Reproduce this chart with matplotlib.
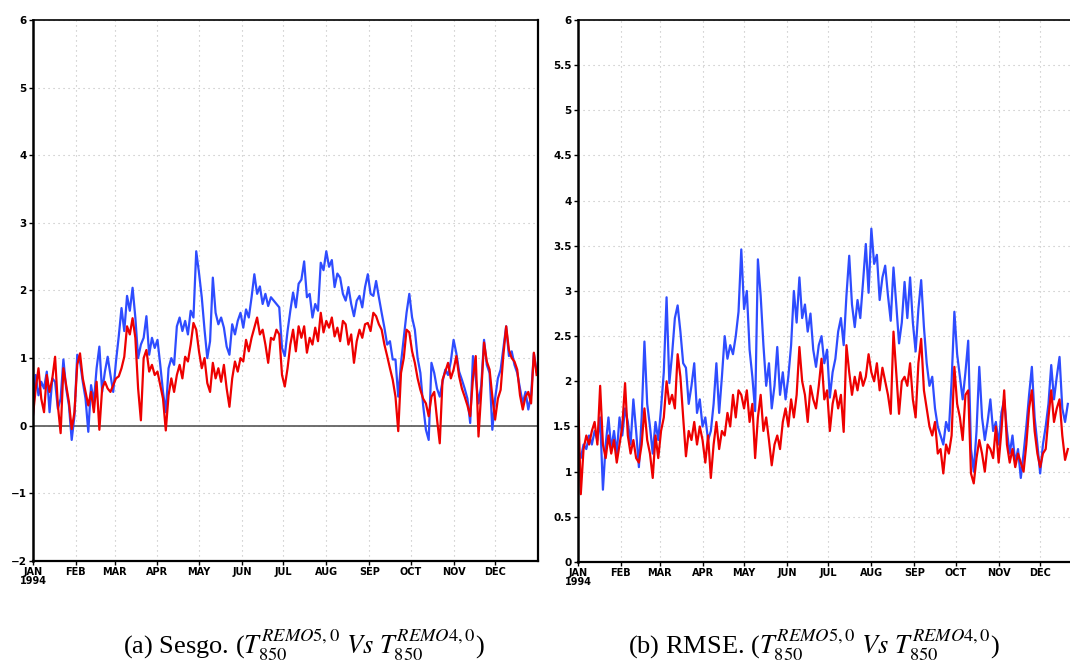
import numpy as np
import matplotlib
matplotlib.use("Agg")
import matplotlib.pyplot as plt

plt.rcParams['mathtext.fontset'] = 'stix'

# time axis: 1994, one value every two days
month_starts = [0, 31, 59, 90, 120, 151, 181, 212, 243, 273, 304, 334]
month_labels = ["JAN\n1994", "FEB", "MAR", "APR", "MAY", "JUN",
                "JUL", "AUG", "SEP", "OCT", "NOV", "DEC"]

bias_days = np.arange(0, 365, 2)
rmse_days = np.arange(0, 355, 2)

# bias (Sesgo) of T850
bias_blue = [0.15, 0.75, 0.45, 0.65, 0.55, 0.80, 0.20, 0.70, 0.65, 0.25,
             0.40, 0.98, 0.55, 0.30, -0.21, 0.15, 1.05, 0.95, 0.65, 0.40,
             -0.09, 0.60, 0.35, 0.85, 1.17, 0.50, 0.80, 1.02, 0.75, 0.50,
             0.95, 1.32, 1.74, 1.40, 1.92, 1.70, 2.04, 1.60, 1.00, 1.20,
             1.30, 1.62, 1.05, 1.30, 1.15, 1.27, 0.90, 0.50, 0.20, 0.85,
             1.00, 0.90, 1.47, 1.60, 1.40, 1.55, 1.35, 1.70, 1.60, 2.58,
             2.26, 1.90, 1.42, 1.00, 1.25, 2.19, 1.67, 1.50, 1.60, 1.45,
             1.17, 1.05, 1.50, 1.35, 1.55, 1.67, 1.45, 1.72, 1.60, 1.90,
             2.24, 1.95, 2.06, 1.80, 1.95, 1.77, 1.90, 1.85, 1.80, 1.75,
             1.15, 1.03, 1.40, 1.70, 1.97, 1.75, 2.10, 2.16, 2.43, 1.90,
             1.95, 1.60, 1.80, 1.70, 2.41, 2.30, 2.58, 2.35, 2.45, 2.05,
             2.25, 2.19, 1.95, 1.85, 2.05, 1.80, 1.62, 1.85, 1.92, 1.75,
             2.05, 2.24, 1.95, 1.92, 2.14, 1.90, 1.67, 1.45, 1.20, 1.25,
             0.98, 0.98, 0.43, 0.93, 1.30, 1.67, 1.95, 1.60, 1.42, 1.00,
             0.78, 0.30, -0.06, -0.21, 0.93, 0.78, 0.55, 0.43, 0.65, 0.83,
             0.75, 0.95, 1.27, 1.07, 0.80, 0.68, 0.55, 0.40, 0.04, 1.03,
             0.70, 0.33, 0.60, 1.27, 0.90, 0.78, -0.06, 0.40, 0.70, 0.83,
             1.15, 1.47, 1.03, 1.10, 0.90, 0.78, 0.55, 0.33, 0.50, 0.24,
             0.45, 1.07, 0.80]

bias_red = [0.15, 0.55, 0.85, 0.40, 0.20, 0.75, 0.50, 0.70, 1.02, 0.30,
            -0.11, 0.85, 0.60, 0.35, -0.05, 0.20, 0.90, 1.07, 0.70, 0.50,
            0.30, 0.50, 0.20, 0.65, -0.06, 0.55, 0.65, 0.55, 0.50, 0.60,
            0.70, 0.73, 0.85, 1.02, 1.47, 1.35, 1.59, 1.30, 0.55, 0.08,
            1.00, 1.12, 0.80, 0.90, 0.75, 0.80, 0.60, 0.40, -0.07, 0.45,
            0.70, 0.50, 0.75, 0.90, 0.70, 1.02, 0.95, 1.20, 1.52, 1.42,
            1.10, 0.85, 1.00, 0.63, 0.50, 0.93, 0.70, 0.85, 0.65, 0.90,
            0.55, 0.28, 0.70, 0.95, 0.80, 1.00, 0.95, 1.27, 1.10, 1.30,
            1.45, 1.60, 1.35, 1.42, 1.20, 0.93, 1.30, 1.27, 1.42, 1.35,
            0.75, 0.58, 0.85, 1.20, 1.42, 1.10, 1.47, 1.30, 1.47, 1.08,
            1.30, 1.20, 1.45, 1.25, 1.67, 1.38, 1.55, 1.45, 1.60, 1.32,
            1.45, 1.25, 1.55, 1.50, 1.20, 1.35, 0.93, 1.25, 1.42, 1.30,
            1.50, 1.52, 1.40, 1.67, 1.62, 1.50, 1.42, 1.20, 1.03, 0.85,
            0.68, 0.43, -0.08, 0.78, 1.00, 1.42, 1.38, 1.10, 0.93, 0.70,
            0.53, 0.40, 0.33, 0.14, 0.43, 0.50, 0.10, -0.26, 0.68, 0.80,
            0.93, 0.70, 0.83, 1.03, 0.73, 0.55, 0.43, 0.30, 0.14, 0.70,
            1.03, -0.16, 0.50, 1.23, 0.95, 0.83, 0.43, 0.09, 0.40, 0.53,
            1.05, 1.47, 1.12, 1.00, 0.95, 0.83, 0.45, 0.24, 0.43, 0.50,
            0.33, 1.08, 0.75]

# RMSE of T850
rmse_blue = [1.25, 1.15, 1.30, 1.25, 1.40, 1.30, 1.45, 1.35, 1.60, 0.80,
             1.30, 1.60, 1.25, 1.45, 1.20, 1.60, 1.40, 1.70, 1.55, 1.30,
             1.80, 1.45, 1.05, 1.60, 2.44, 1.75, 1.50, 1.20, 1.55, 1.35,
             1.70, 2.10, 2.93, 1.98, 2.30, 2.70, 2.84, 2.55, 2.20, 2.15,
             1.75, 1.95, 2.20, 1.65, 1.80, 1.50, 1.60, 1.35, 1.45, 1.75,
             2.20, 1.65, 2.05, 2.50, 2.25, 2.40, 2.30, 2.50, 2.77, 3.46,
             2.80, 3.00, 2.35, 2.05, 1.67, 3.35, 2.95, 2.40, 1.95, 2.20,
             1.70, 1.95, 2.38, 1.85, 2.10, 1.80, 2.05, 2.40, 3.00, 2.65,
             3.15, 2.70, 2.85, 2.55, 2.75, 2.35, 2.16, 2.40, 2.50, 2.20,
             2.35, 1.82, 2.10, 2.25, 2.55, 2.70, 2.40, 2.95, 3.39, 2.85,
             2.60, 2.90, 2.70, 3.10, 3.52, 2.98, 3.69, 3.30, 3.40, 2.90,
             3.15, 3.28, 2.95, 2.67, 3.26, 2.85, 2.42, 2.65, 3.10, 2.70,
             3.15, 2.65, 2.33, 2.80, 3.12, 2.60, 2.20, 1.95, 2.05, 1.70,
             1.50, 1.40, 1.30, 1.55, 1.45, 2.00, 2.77, 2.30, 2.05, 1.80,
             2.10, 2.45, 1.25, 1.00, 1.45, 2.16, 1.60, 1.35, 1.55, 1.80,
             1.45, 1.55, 1.30, 1.65, 1.80, 1.45, 1.20, 1.40, 1.10, 1.25,
             0.93, 1.20, 1.50, 1.85, 2.16, 1.60, 1.30, 0.98, 1.30, 1.50,
             1.75, 2.18, 1.80, 2.05, 2.27, 1.70, 1.55, 1.75]

rmse_red = [1.85, 0.75, 1.25, 1.40, 1.30, 1.45, 1.55, 1.30, 1.95, 1.30,
            1.15, 1.40, 1.20, 1.35, 1.10, 1.30, 1.50, 1.98, 1.40, 1.20,
            1.35, 1.15, 1.10, 1.30, 1.70, 1.35, 1.20, 0.93, 1.40, 1.15,
            1.45, 1.60, 2.00, 1.75, 1.85, 1.70, 2.30, 2.05, 1.60, 1.17,
            1.45, 1.35, 1.55, 1.30, 1.50, 1.35, 1.10, 1.40, 0.93, 1.30,
            1.55, 1.25, 1.45, 1.40, 1.65, 1.50, 1.85, 1.60, 1.90, 1.85,
            1.70, 1.90, 1.55, 1.75, 1.15, 1.60, 1.85, 1.45, 1.60, 1.35,
            1.07, 1.30, 1.40, 1.25, 1.55, 1.70, 1.50, 1.80, 1.60, 1.85,
            2.38, 2.00, 1.85, 1.55, 1.95, 1.80, 1.70, 1.95, 2.25, 1.80,
            1.90, 1.45, 1.75, 1.90, 1.70, 1.85, 1.44, 2.40, 2.10, 1.85,
            2.05, 1.90, 2.10, 1.95, 2.05, 2.30, 2.10, 2.00, 2.20, 1.90,
            2.15, 2.00, 1.85, 1.64, 2.55, 2.10, 1.64, 2.00, 2.05, 1.95,
            2.20, 1.80, 1.60, 2.20, 2.47, 1.90, 1.70, 1.50, 1.40, 1.55,
            1.20, 1.25, 0.98, 1.30, 1.20, 1.40, 2.16, 1.75, 1.60, 1.35,
            1.85, 1.90, 0.98, 0.87, 1.15, 1.35, 1.20, 1.00, 1.30, 1.25,
            1.15, 1.50, 1.10, 1.45, 1.90, 1.30, 1.10, 1.25, 1.05, 1.20,
            1.10, 1.00, 1.30, 1.70, 1.90, 1.45, 1.20, 1.05, 1.20, 1.25,
            1.60, 1.90, 1.55, 1.70, 1.80, 1.40, 1.13, 1.25]

bias_yticks = [-2, -1, 0, 1, 2, 3, 4, 5, 6]
bias_ylabels = ["\u22122", "\u22121", "0", "1", "2", "3", "4", "5", "6"]
rmse_yticks = [0, 0.5, 1, 1.5, 2, 2.5, 3, 3.5, 4, 4.5, 5, 5.5, 6]
rmse_ylabels = ["0", "0.5", "1", "1.5", "2", "2.5", "3", "3.5", "4",
                "4.5", "5", "5.5", "6"]

blue = "#2e4cff"
red = "#ee0000"


def style_axis(ax, yticks, ylabels):
    ax.set_xlim(0, 365)
    ax.set_ylim(yticks[0], yticks[-1])
    ax.set_xticks(month_starts)
    ax.set_xticklabels(month_labels, fontsize=7, fontweight='bold',
                       family='DejaVu Sans', linespacing=0.85)
    ax.set_yticks(yticks)
    ax.set_yticklabels(ylabels, fontsize=7.5, fontweight='bold',
                       family='DejaVu Sans')
    ax.tick_params(direction='out', length=3, width=1, pad=1.5)
    ax.grid(True, color='#bcbcbc', linestyle=(0, (1, 3.5)), linewidth=0.8)
    ax.set_axisbelow(True)
    ax.spines['left'].set_linewidth(1.8)
    ax.spines['bottom'].set_linewidth(1.6)
    ax.spines['top'].set_linewidth(1.2)
    ax.spines['right'].set_linewidth(1.6)


fig = plt.figure(figsize=(10.7, 6.66), dpi=100)

ax1 = fig.add_axes([0.0308, 0.1577, 0.472, 0.8123])
style_axis(ax1, bias_yticks, bias_ylabels)
ax1.axhline(0, color='#555555', linewidth=1.2, zorder=1.5)
ax1.plot(bias_days, bias_blue, color=blue, linewidth=1.6)
ax1.plot(bias_days, bias_red, color=red, linewidth=1.6)

ax2 = fig.add_axes([0.5402, 0.1562, 0.472, 0.8138])
style_axis(ax2, rmse_yticks, rmse_ylabels)
ax2.plot(rmse_days, rmse_blue, color=blue, linewidth=1.6)
ax2.plot(rmse_days, rmse_red, color=red, linewidth=1.6)

cap_a = r"(a) Sesgo. ($T^{REMO5,0}_{850}$ $Vs$ $T^{REMO4,0}_{850}$)"
cap_b = r"(b) RMSE. ($T^{REMO5,0}_{850}$ $Vs$ $T^{REMO4,0}_{850}$)"
fig.text(0.2843, 0.019, cap_a, ha='center', va='baseline', fontsize=19,
         family='Liberation Serif')
fig.text(0.761, 0.019, cap_b, ha='center', va='baseline', fontsize=19,
         family='Liberation Serif')

fig.savefig("out.png", dpi=100)
